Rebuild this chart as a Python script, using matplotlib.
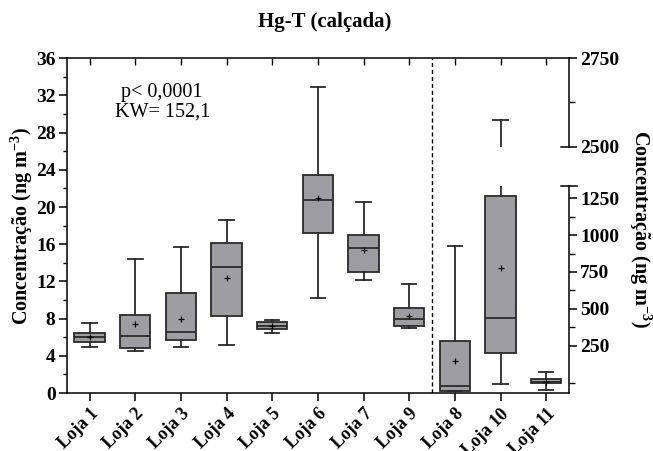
import matplotlib
matplotlib.use("Agg")
import matplotlib.pyplot as plt
from matplotlib.ticker import MultipleLocator, FixedLocator

plt.rcParams['font.family'] = 'Liberation Serif'
plt.rcParams['font.weight'] = 'bold'
plt.rcParams['mathtext.fontset'] = 'custom'
plt.rcParams['mathtext.rm'] = 'Liberation Serif:bold'
plt.rcParams['mathtext.it'] = 'Liberation Serif:bold'
plt.rcParams['mathtext.bf'] = 'Liberation Serif:bold'

# left scale (ng m-3), Loja 1..9
left_names = ['Loja 1', 'Loja 2', 'Loja 3', 'Loja 4', 'Loja 5', 'Loja 6', 'Loja 7', 'Loja 9']
left_whislo = [4.98, 4.51, 4.91, 5.19, 6.48, 10.21, 12.14, 6.95]
left_q1 = [5.45, 4.87, 5.70, 8.31, 6.84, 17.16, 12.97, 7.20]
left_med = [5.98, 6.16, 6.59, 13.54, 7.20, 20.74, 15.58, 7.92]
left_q3 = [6.45, 8.35, 10.71, 16.10, 7.63, 23.43, 16.98, 9.17]
left_whishi = [7.55, 14.37, 15.70, 18.60, 7.81, 32.90, 20.52, 11.75]
left_mean = [6.05, 7.38, 7.99, 12.32, 7.20, 20.95, 15.40, 8.31]

# right scale (broken axis), Loja 8, 10, 11
right_names = ['Loja 8', 'Loja 10', 'Loja 11']
right_whislo = [-57, -12, -51]
right_q1 = [-57, 200, -5]
right_med = [-26, 438, 6]
right_q3 = [282, 1266, 22]
right_whishi = [928, 2576, 69]
right_mean = [146, 779, 6]

box_face = '#9e9ea2'
edge = '#2a2a2a'


def make_stats(names, lo, q1, med, q3, hi, mean):
    return [dict(label=n, whislo=a, q1=b, med=c, q3=d, whishi=e, mean=f)
            for n, a, b, c, d, e, f in zip(names, lo, q1, med, q3, hi, mean)]


def draw(ax, stats, pos):
    ax.bxp(stats, positions=pos, widths=0.67, showmeans=True, patch_artist=True,
           showfliers=False, manage_ticks=False,
           boxprops=dict(facecolor=box_face, edgecolor=edge, linewidth=1.3),
           medianprops=dict(color=edge, linewidth=1.3),
           whiskerprops=dict(color=edge, linewidth=1.3),
           capprops=dict(color=edge, linewidth=1.3),
           capwidths=0.32,
           meanprops=dict(marker='+', markeredgecolor='black', markersize=5,
                          markeredgewidth=0.9))


fig = plt.figure(figsize=(6.53, 4.51), dpi=100)
L, R = 66.7 / 653, 569 / 653
ax = fig.add_axes([L, 58 / 451, R - L, (393 - 58.3) / 451])
ax_low = fig.add_axes([L, 58 / 451, R - L, (393 - 186) / 451])
ax_high = fig.add_axes([L, (451 - 146.7) / 451, R - L, (146.7 - 58.3) / 451])

all_names = left_names + right_names
lpos = list(range(1, len(left_names) + 1))
rpos = list(range(len(left_names) + 1, len(all_names) + 1))

draw(ax, make_stats(left_names, left_whislo, left_q1, left_med, left_q3, left_whishi, left_mean), lpos)
rstats = make_stats(right_names, right_whislo, right_q1, right_med, right_q3, right_whishi, right_mean)
draw(ax_low, rstats, rpos)
draw(ax_high, rstats, rpos)

# main axes
ax.set_xlim(0.5, 11.5)
ax.set_ylim(0, 36)
ax.spines['right'].set_visible(False)
for s in ['left', 'bottom', 'top']:
    ax.spines[s].set_linewidth(1.1)
ax.yaxis.set_major_locator(MultipleLocator(4))
ax.yaxis.set_minor_locator(MultipleLocator(2))
ax.tick_params(axis='y', which='major', length=6, width=1.1, labelsize=14, pad=2)
ax.tick_params(axis='y', which='minor', length=3, width=1.0)
ax.set_xticks(lpos + rpos)
ax.set_xticklabels(all_names, rotation=45, ha='right', rotation_mode='anchor', fontsize=13)
ax.tick_params(axis='x', which='major', length=6, width=1.1, top=False, pad=3, direction='out')
sec = ax.secondary_xaxis('top')
sec.set_xticks(lpos + rpos)
sec.set_xticklabels([])
sec.tick_params(direction='in', length=5, width=1.0)
sec.spines['top'].set_visible(False)
ax.axvline(8.5, color='black', linestyle=(0, (3, 2)), linewidth=1.0)
ax.set_ylabel('Concentração (ng m$^{-3}$)', fontsize=14.5, fontweight='bold', labelpad=1)
fig.text(325 / 653, 1 - 22 / 451, 'Hg-T (calçada)', ha='center', va='center',
         fontsize=15, fontweight='bold')
ax.text(0.19, 0.925, 'p< 0,0001\nKW= 152,1', transform=ax.transAxes, ha='center', va='top',
        fontsize=14.5, fontweight='normal', linespacing=1.0)

# right broken axis
scale = 250 / 36.85
for a, lims in [(ax_low, (-(393 - 382.55) * scale, (382.55 - 186) * scale)),
                (ax_high, (2500, 2750))]:
    a.set_xlim(0.5, 11.5)
    a.set_ylim(*lims)
    a.patch.set_visible(False)
    for s in ['left', 'top', 'bottom']:
        a.spines[s].set_visible(False)
    a.spines['right'].set_linewidth(1.1)
    a.set_xticks([])
    a.yaxis.tick_right()
    a.tick_params(axis='y', which='major', length=6, width=1.1, labelsize=14, pad=2)
    a.tick_params(axis='y', which='minor', length=4, width=1.0)

ax_low.yaxis.set_major_locator(FixedLocator([250, 500, 750, 1000, 1250]))
ax_low.yaxis.set_minor_locator(FixedLocator([0, 375, 625, 875, 1125]))
ax_low.plot([0.985, 1.015], [1, 1], transform=ax_low.transAxes, color='black',
            linewidth=1.1, clip_on=False)
ax_high.yaxis.set_major_locator(FixedLocator([2500, 2750]))
ax_high.yaxis.set_minor_locator(FixedLocator([2625]))
ax_high.plot([0.985, 1.0], [0, 0], transform=ax_high.transAxes, color='black',
             linewidth=1.1, clip_on=False)

fig.text(640 / 653, 1 - 229 / 451, 'Concentração (ng m$^{-3}$)', rotation=-90,
         ha='center', va='center', fontsize=14.5, fontweight='bold')

fig.savefig('out.png', dpi=100)
